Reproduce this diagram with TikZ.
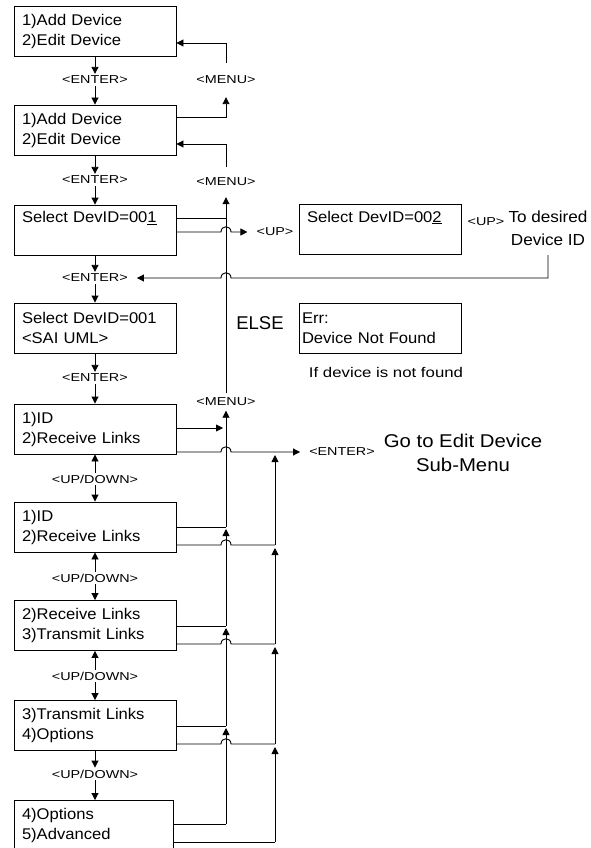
\documentclass[tikz,border=0pt]{standalone}
\usepackage{fontspec}
\setmainfont{Liberation Sans}
\newfontfamily\boxf[FakeStretch=1.07]{Liberation Sans}
\newfontfamily\lblf[FakeStretch=1.25]{Liberation Sans}
\newfontfamily\bigf[FakeStretch=1.1]{Liberation Sans}
\newfontfamily\widef[FakeStretch=1.2]{Liberation Sans}
\usetikzlibrary{arrows.meta}
\newcommand\hopx[1]{-- (221,#1) .. controls (221,#1-7) and (231,#1-7) .. (231,#1)}
\begin{document}
\begin{tikzpicture}[x=1pt,y=-1pt,
 menubox/.style={draw, line width=0.9pt, rectangle, minimum width=162pt, minimum height=50pt,
   text width=146pt, inner xsep=8pt, inner ysep=0pt, align=left,
   font=\boxf\fontsize{15.5}{20}\selectfont},
 lbl/.style={font=\lblf\fontsize{11.5}{13}\selectfont, inner xsep=9pt, inner ysep=2pt},
 ln/.style={line width=0.9pt},
 arr/.style={ln, -{Triangle[length=7pt,width=7pt]}},
]
\useasboundingbox (0,0) rectangle (590,848);
\fill[white] (0,0) rectangle (590,848);
\clip (0,0) rectangle (590,848);

% boxes
\node[menubox] (b1) at (95,31.5) {1)Add Device\\2)Edit Device};
\node[menubox] (b2) at (95,130) {1)Add Device\\2)Edit Device};
\node[menubox] (b3) at (95,230) {Select DevID=00\underline{1}\\\strut};
\node[menubox] (b4) at (380,229.5) {Select DevID=00\underline{2}\\\strut};
\node[menubox] (b5) at (95,328) {Select DevID=001\\<SAI UML>};
\node[menubox, inner xsep=3pt, text width=156pt] (err) at (380,328) {Err:\\Device Not Found};
\node[menubox] (b6) at (95,429) {1)ID\\2)Receive Links};
\node[menubox] (b7) at (95,527) {1)ID\\2)Receive Links};
\node[menubox] (b8) at (95,625.5) {2)Receive Links\\3)Transmit Links};
\node[menubox] (b9) at (95,725.5) {3)Transmit Links\\4)Options};
\node[menubox, minimum width=159pt, text width=143pt] (b10) at (93.5,825.5) {4)Options\\5)Advanced};

% labels
\node[lbl] (e1) at (95,80) {<ENTER>};
\node[lbl] (e2) at (95,180) {<ENTER>};
\node[lbl] (e3) at (95,278) {<ENTER>};
\node[lbl] (e4) at (95,378) {<ENTER>};
\node[lbl] (u1) at (95,479) {<UP/DOWN>};
\node[lbl] (u2) at (95,578) {<UP/DOWN>};
\node[lbl] (u3) at (95,676) {<UP/DOWN>};
\node[lbl] (u4) at (95,774) {<UP/DOWN>};
\node[lbl, minimum height=34pt] (m1) at (226,80) {<MENU>};
\node[lbl, minimum height=30pt] (m2) at (226,182) {<MENU>};
\node[lbl, minimum height=17pt] (m3) at (226,402) {<MENU>};
\node[lbl] (up1) at (275,232) {<UP>};
\node[lbl, inner xsep=1pt] (up2) at (486,222) {<UP>};
\node[lbl] (en) at (342,452) {<ENTER>};
\node[align=center, font=\boxf\fontsize{16}{23}\selectfont, inner sep=0pt] (td) at (548,228) {To desired\\Device ID};
\node[align=center, font=\bigf\fontsize{18.5}{24}\selectfont] (go) at (463,453) {Go to Edit Device\\Sub-Menu};
\node[font=\fontsize{18.5}{22}\selectfont] (else) at (260,323) {ELSE};
\node[font=\widef\fontsize{14}{16}\selectfont] (nf) at (386,372) {If device is not found};

% junction coordinates
\coordinate (ja3) at (226,218);
\coordinate (ja6) at (223,428);
\coordinate (ja7) at (226,527);
\coordinate (ja8) at (226,626);
\coordinate (ja9) at (226,726);
\coordinate (ja10) at (226,824);
\coordinate (jb6) at (275,452);
\coordinate (jb7) at (275,545);
\coordinate (jb8) at (275,644);
\coordinate (jb9) at (275,744);
\coordinate (jb10) at (275,842);
\coordinate (tdb) at (548,255);

% main column
\draw[arr] (b1) -- (e1);
\draw[arr] (e1) -- (b2);
\draw[arr] (b2) -- (e2);
\draw[arr] (e2) -- (b3);
\draw[arr] (b3) -- (e3);
\draw[arr] (e3) -- (b5);
\draw[arr] (b5) -- (e4);
\draw[arr] (e4) -- (b6);
\draw[arr] (u1) -- (b6);
\draw[arr] (u1) -- (b7);
\draw[arr] (u2) -- (b7);
\draw[arr] (u2) -- (b8);
\draw[arr] (u3) -- (b8);
\draw[arr] (u3) -- (b9);
\draw[arr] (b9) -- (u4);
\draw[arr] (u4) -- (u4 |- b10.north);

% menu loops
\draw[arr] ([yshift=13pt]b2.east) -| (m1.south);
\draw[arr] (m1.north) |- ([yshift=-11.5pt]b1.east);
\draw[arr] (m2.north) |- ([yshift=-14pt]b2.east);
\draw[arr] (m3.north) -- (m2.south);

% vertical at x=226
\draw[ln] ([yshift=1.5pt]b10.east) -- (ja10);
\draw[arr] (ja10) -- ([yshift=-2pt]ja9);
\draw[arr] (ja9) -- ([yshift=-2pt]ja8);
\draw[arr] (ja8) -- ([yshift=-2pt]ja7);
\draw[arr] (ja7) -- (m3.south);

% vertical at x=275
\draw[ln] ([yshift=-16.5pt]b10.east) -- (jb10);
\draw[arr] (jb10) -- ([yshift=-3pt]jb9);
\draw[arr] (jb9) -- ([yshift=-3pt]jb8);
\draw[arr] (jb8) -- ([yshift=-3pt]jb7);
\draw[arr] (jb7) -- ([yshift=-3pt]jb6);

% box exits
\draw[ln] ([yshift=12pt]b3.east) -- (ja3);
\draw[arr] ([yshift=-2pt]b3.east) \hopx{232} -- (up1);
\draw[arr] (tdb) |- (231,278) .. controls (231,271) and (221,271) .. (221,278) -- (e3);
\draw[arr] ([yshift=1pt]b6.east) -- (ja6);
\draw[arr] ([yshift=-23pt]b6.east) \hopx{452} -- (jb6) -- (en);
\draw[ln] (b7.east) -- (ja7);
\draw[ln] ([yshift=-18pt]b7.east) \hopx{545} -- (jb7);
\draw[ln] ([yshift=-0.5pt]b8.east) -- (ja8);
\draw[ln] ([yshift=-18.5pt]b8.east) \hopx{644} -- (jb8);
\draw[ln] ([yshift=-0.5pt]b9.east) -- (ja9);
\draw[ln] ([yshift=-18.5pt]b9.east) \hopx{744} -- (jb9);
\end{tikzpicture}
\end{document}
